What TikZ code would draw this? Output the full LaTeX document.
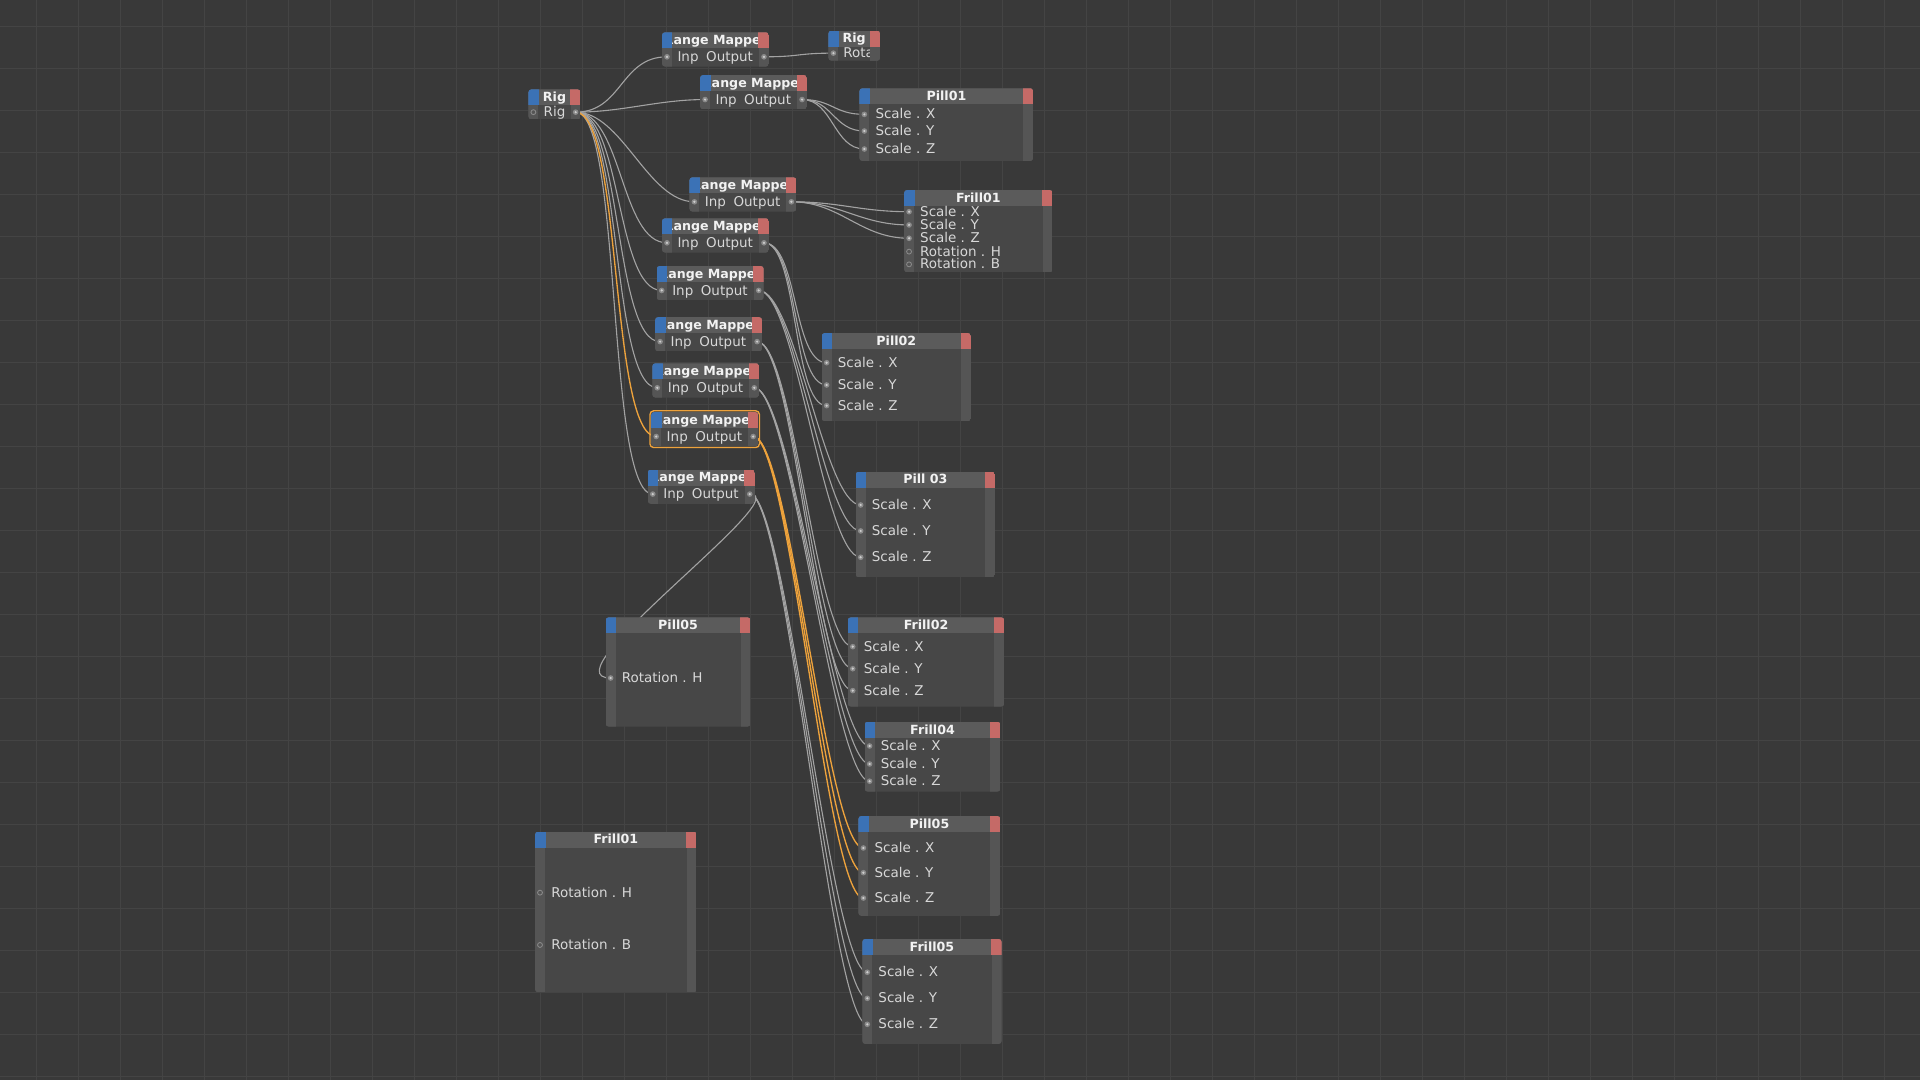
\documentclass[tikz,border=0pt]{standalone}
\usepackage{fontspec}
\setmainfont{DejaVu Sans}

\definecolor{bg}{HTML}{393939}
\definecolor{gridc}{HTML}{444444}
\definecolor{nbodyc}{HTML}{474747}
\definecolor{nheadc}{HTML}{5B5B5B}
\definecolor{ncolc}{HTML}{555555}
\definecolor{nbluec}{HTML}{3B72B6}
\definecolor{nredc}{HTML}{C56A67}
\definecolor{wirec}{HTML}{A3A3A3}
\definecolor{orangec}{HTML}{EDA23C}
\definecolor{txtc}{HTML}{D8D8D8}
\definecolor{titlec}{HTML}{F2F2F2}
\definecolor{portc}{HTML}{8A8A8A}
\definecolor{portdc}{HTML}{CFCFCF}

\pgfdeclarelayer{grid}
\pgfdeclarelayer{wires}
\pgfsetlayers{grid,wires,main}

\tikzset{
  wire/.style={draw=wirec, line width=0.9pt},
  owire/.style={draw=orangec, line width=1.1pt},
  rowtxt/.style={text=txtc, font=\fontsize{11}{13}\selectfont, inner sep=0pt, anchor=mid west, yshift=-1pt},
  rowtxtr/.style={rowtxt, anchor=mid east},
  ntitle/.style={text=titlec, font=\fontsize{10.3}{12}\selectfont\bfseries, inner sep=0pt, anchor=mid},
}

% box: name, x, y, width, height, title
\newcommand{\xnode}[6]{%
  \begin{scope}
    \clip[rounded corners=2.5pt] (#2,#3) rectangle ++(#4,#5);
    \fill[nbodyc] (#2,#3) rectangle ++(#4,#5);
    \fill[ncolc] (#2,#3) rectangle ++(8.2,#5);
    \fill[ncolc] (#2+#4,#3) rectangle ++(-8.2,#5);
    \fill[nheadc] (#2,#3) rectangle ++(#4,13);
    \node[ntitle] (#1) at (#2+#4/2,#3+7.3) {#6};
    \fill[nbluec] (#2,#3) rectangle ++(8.6,13);
    \fill[nredc] (#2+#4,#3) rectangle ++(-8.6,13);
  \end{scope}}

\newcommand{\inport}[3]{\coordinate (#1) at (#2,#3);
  \fill[portc] (#1) circle (2.3pt); \fill[portdc] (#1) circle (1pt);}
\newcommand{\freeport}[3]{\coordinate (#1) at (#2,#3);
  \draw[portc, line width=0.7pt] (#1) circle (2pt);}

\newcommand{\rmnode}[3]{%
  \xnode{#1}{#2}{#3}{87.4}{28}{Range Mapper}
  \inport{#1-in}{#2+4.1}{#3+20}
  \inport{#1-out}{#2+83.3}{#3+20}
  \node[rowtxt] (#1-ti) at (#2+12.5,#3+20) {Inp};
  \node[rowtxtr] (#1-to) at (#2+74.5,#3+20) {Output};}

\newcommand{\xyzrows}[5]{%
  \foreach \ax/\ay in {X/#3,Y/#4,Z/#5}{
    \inport{#1-\ax}{#2+4.1}{\ay}
    \node[rowtxt] (#1-t\ax) at (#2+13,\ay) {Scale . \ax};}}

\begin{document}
\begin{tikzpicture}[x=1pt, y=-1pt]
  \useasboundingbox (0,0) rectangle (1568,882);
  \begin{pgfonlayer}{grid}
    \fill[bg] (0,0) rectangle (1568,882);
    \foreach \i in {0,...,44} \draw[gridc, line width=0.8pt] (30+34.29*\i,0) -- (30+34.29*\i,882);
    \foreach \j in {0,...,25} \draw[gridc, line width=0.8pt] (0,22+34.29*\j) -- (1568,22+34.29*\j);
  \end{pgfonlayer}

  % Rig
  \xnode{rigL}{431.5}{73}{42.7}{24.5}{Rig}
  \freeport{rigL-in}{435.6}{91.6}
  \inport{rigL-out}{470.1}{91.6}
  \node[rowtxt] (rigL-t) at (443.8,91.6) {Rig};

  \xnode{rigTR}{676.5}{25}{42.2}{24.6}{Rig}
  \inport{rigTR-in}{680.6}{43.4}
  \node[rowtxt] (rigTR-t) at (688.6,43.4) {Rota};
  \begin{scope}
    \clip[rounded corners=2.5pt] (676.5,25) rectangle ++(42.2,24.6);
    \fill[ncolc] (710.5,38) rectangle (718.7,49.6);
  \end{scope}

  % range mappers
  \rmnode{rm1}{540.6}{26.4}
  \rmnode{rm2}{571.7}{61.3}
  \rmnode{rm3}{563}{144.8}
  \rmnode{rm4}{540.6}{178.3}
  \rmnode{rm5}{536.3}{217.2}
  \rmnode{rm6}{535}{259}
  \rmnode{rm7}{532.7}{296.7}
  \rmnode{rm8}{531.8}{336.5}
  \rmnode{rm9}{529}{383.5}
  \draw[orangec, line width=1.1pt, rounded corners=3pt] (530.8,335.5) rectangle ++(89.4,30);

  % objects
  \xnode{pill1}{701.8}{72.1}{142.2}{59.4}{Pill01}
  \xyzrows{pill1}{701.8}{93.4}{107}{121.7}

  \xnode{frill1}{738.3}{155.2}{121.4}{67.2}{Frill01}
  \xyzrows{frill1}{738.3}{172.9}{183.7}{194.6}
  \freeport{frill1-H}{742.4}{205.5}
  \freeport{frill1-B}{742.4}{215.9}
  \node[rowtxt] (frill1-tH) at (751.3,205.5) {Rotation . H};
  \node[rowtxt] (frill1-tB) at (751.3,215.9) {Rotation . B};

  \xnode{pill2}{671}{272}{122}{72}{Pill02}
  \xyzrows{pill2}{671}{296.2}{314.4}{331.3}

  \xnode{pill3}{698.8}{385.2}{113.8}{86.3}{Pill 03}
  \xyzrows{pill3}{698.8}{412.4}{433.6}{455.1}

  \xnode{frill2}{692.3}{504.2}{127.9}{72.8}{Frill02}
  \xyzrows{frill2}{692.3}{528.1}{546.1}{564}

  \xnode{frill4}{706.1}{589.4}{110.9}{57.1}{Frill04}
  \xyzrows{frill4}{706.1}{609.2}{623.9}{638}

  \xnode{pill5}{701}{666.4}{116}{81.6}{Pill05}
  \xyzrows{pill5}{701}{692.5}{712.7}{733.4}

  \xnode{frill5}{704.2}{766.8}{113.8}{85.8}{Frill05}
  \xyzrows{frill5}{704.2}{794}{815.3}{836.5}

  \xnode{pill5L}{494.6}{504.2}{118.4}{89.2}{Pill05}
  \inport{pill5L-H}{498.7}{553.7}
  \node[rowtxt] (pill5L-tH) at (507.6,553.7) {Rotation . H};

  \xnode{frill1L}{436.9}{679.2}{132.1}{131.2}{Frill01}
  \freeport{frill1L-H}{441}{729}
  \freeport{frill1L-B}{441}{771.7}
  \node[rowtxt] (frill1L-tH) at (450,729) {Rotation . H};
  \node[rowtxt] (frill1L-tB) at (450,771.7) {Rotation . B};

  % wires
  \begin{pgfonlayer}{wires}
    \foreach \r in {rm1,rm2,rm3,rm4,rm5,rm6,rm7,rm9}
      \draw[wire] (rigL-out) .. controls +(38,0) and +(-38,0) .. (\r-in);
    \draw[owire] (rigL-out) .. controls +(38,0) and +(-38,0) .. (rm8-in);
    \draw[wire] (rm1-out) .. controls +(30,0) and +(-30,0) .. (rigTR-in);
    \foreach \a in {X,Y,Z} {
      \draw[wire] (rm2-out) .. controls +(25,0) and +(-25,0) .. (pill1-\a);
      \draw[wire] (rm3-out) .. controls +(40,0) and +(-40,0) .. (frill1-\a);
      \draw[wire] (rm4-out) .. controls +(28,0) and +(-28,0) .. (pill2-\a);
      \draw[wire] (rm5-out) .. controls +(30,0) and +(-30,0) .. (pill3-\a);
      \draw[wire] (rm6-out) .. controls +(30,0) and +(-30,0) .. (frill2-\a);
      \draw[wire] (rm7-out) .. controls +(30,0) and +(-30,0) .. (frill4-\a);
      \draw[owire] (rm8-out) .. controls +(30,0) and +(-30,0) .. (pill5-\a);
      \draw[wire] (rm9-out) .. controls +(30,0) and +(-30,0) .. (frill5-\a);
    }
    \draw[wire] (rm9-out) .. controls +(40,0) and +(-55,0) .. (pill5L-H);
  \end{pgfonlayer}
\end{tikzpicture}
\end{document}
